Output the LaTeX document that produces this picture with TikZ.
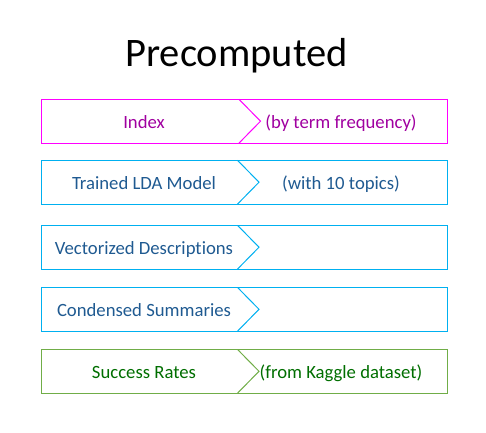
\documentclass[tikz,border=0pt]{standalone}
\usepackage{fontspec}
\setmainfont{Carlito}[Ligatures=NoCommon]
\usetikzlibrary{calc}
\definecolor{magB}{RGB}{255,0,255}
\definecolor{magT}{RGB}{160,0,160}
\definecolor{cyB}{RGB}{0,176,240}
\definecolor{blT}{RGB}{31,90,145}
\definecolor{grB}{RGB}{112,173,71}
\definecolor{grT}{RGB}{0,110,0}
\tikzset{
  rowbox/.style={draw, rectangle, minimum width=405.3pt, minimum height=43.8pt, inner sep=0pt, outer sep=0pt, line width=1pt},
  lbl/.style={font=\fontsize{18.7}{22}\selectfont, anchor=base, inner sep=0pt},
  chev/.style={line width=1pt}
}
\begin{document}
\begin{tikzpicture}[x=1pt,y=-1pt]
\useasboundingbox (0,0) rectangle (486,432);
\node[font=\fontsize{40.5}{46}\selectfont, anchor=base, inner sep=0pt] (title) at (236.5,66.7) {Precomputed};
% boxes
\node[rowbox, draw=magB] (b1) at (244.35,121.2) {};
\node[rowbox, draw=cyB] (b2) at (244.35,182.2) {};
\node[rowbox, draw=cyB] (b3) at (244.35,247.2) {};
\node[rowbox, draw=cyB] (b4) at (244.35,309.3) {};
\node[rowbox, draw=grB] (b5) at (244.35,371.3) {};
% chevrons
\foreach \b/\c/\s in {b1/magB/197.3, b2/cyB/195.8, b3/cyB/195.8, b4/cyB/195.8, b5/grB/195.8}{
  \draw[chev, \c] ($(\b.north west)+(\s,0)$) -- ($(\b.west)+(\s+21.5,0)$) -- ($(\b.south west)+(\s,0)$);
}
% texts
\node[lbl, text=magT] (t1) at (144,128) {Index};
\node[lbl, text=magT] (r1) at (341,128) {(by term frequency)};
\node[lbl, text=blT] (t2) at (144,189) {Trained LDA Model};
\node[lbl, text=blT] (r2) at (341,189) {(with 10 topics)};
\node[lbl, text=blT] (t3) at (144,254) {Vectorized Descriptions};
\node[lbl, text=blT] (t4) at (144,316) {Condensed Summaries};
\node[lbl, text=grT] (t5) at (144,378) {Success Rates};
\node[lbl, text=grT] (r5) at (341,378) {(from Kaggle dataset)};
\end{tikzpicture}
\end{document}
